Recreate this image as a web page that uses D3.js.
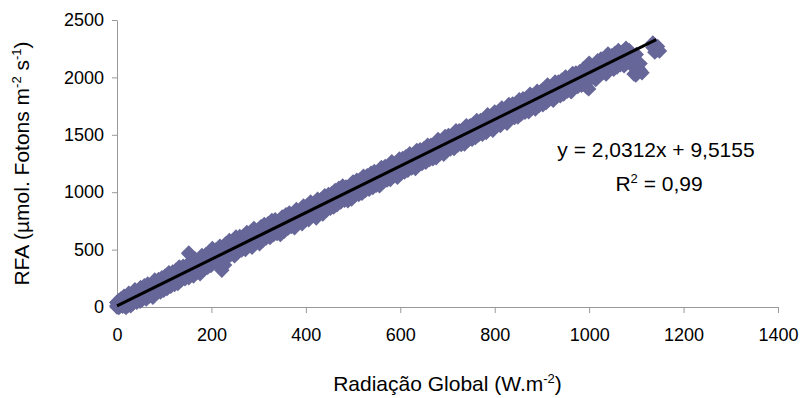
<!DOCTYPE html>
<html>
<head>
<meta charset="utf-8">
<script src="https://cdn.jsdelivr.net/npm/d3@7/dist/d3.min.js"></script>
<style>
  body { margin: 0; background: #fff; }
  svg text { font-family: "Liberation Sans", Arial, sans-serif; fill: #000; }
</style>
</head>
<body>
<div id="chart"></div>
<script>
// values (three overlapping strips of the same cloud)
const radGlobal = [0, 0, 0, 3, 8, 15, 20, 25, 30, 38, 45, 50, 58, 65, 72, 80, 88, 95, 102, 110,
  118, 125, 132, 140, 148, 152, 158, 165, 172, 180, 188, 195, 202, 210, 218, 224, 230, 238, 245, 252,
  260, 268, 275, 282, 290, 298, 305, 312, 320, 328, 335, 342, 350, 358, 365, 372, 380, 388, 395, 402,
  410, 418, 425, 432, 440, 448, 455, 462, 470, 478, 485, 494, 500, 508, 515, 522, 530, 538, 545, 552,
  560, 568, 575, 582, 590, 598, 605, 612, 620, 628, 635, 642, 650, 658, 665, 672, 680, 688, 695, 702,
  710, 718, 725, 732, 740, 748, 755, 762, 770, 778, 785, 792, 800, 808, 815, 822, 830, 838, 845, 852,
  860, 868, 875, 882, 890, 898, 905, 912, 920, 928, 935, 942, 950, 958, 965, 972, 980, 988, 995, 1000,
  1010, 1018, 1025, 1032, 1040, 1048, 1055, 1062, 1070, 1078, 1085, 1095, 1100, 1108, 1135, 1145];
const rfa = [5, 0, 12, 15, 20, 45, 38, 70, 55, 95, 85, 118, 125, 150, 140, 175, 185, 200, 215, 240,
  250, 262, 290, 300, 310, 465, 330, 360, 350, 390, 400, 420, 450, 440, 470, 370, 490, 520, 505, 545,
  555, 560, 590, 580, 620, 610, 640, 660, 665, 690, 700, 690, 720, 745, 760, 750, 790, 785, 815, 820,
  855, 835, 880, 870, 905, 920, 930, 950, 975, 990, 985, 950, 1030, 1040, 1050, 1075, 1085, 1100, 1120, 1115,
  1150, 1165, 1170, 1200, 1190, 1225, 1235, 1250, 1270, 1265, 1300, 1310, 1320, 1345, 1350, 1360, 1395, 1390, 1420, 1435,
  1440, 1470, 1475, 1480, 1515, 1520, 1535, 1560, 1565, 1580, 1610, 1600, 1635, 1640, 1670, 1660, 1700, 1710, 1715, 1740,
  1755, 1760, 1790, 1785, 1815, 1820, 1840, 1870, 1860, 1895, 1900, 1915, 1940, 1935, 1970, 1980, 1990, 2010, 1915, 2060,
  2040, 2080, 2100, 2090, 2140, 2130, 2150, 2170, 2160, 2195, 2175, 2030, 2140, 2060, 2260, 2240];

const rfaHigh = [40, 40, 40, 55, 70, 95, 90, 120, 110, 150, 140, 170, 185, 200, 195, 235, 240, 255, 270, 300,
  305, 320, 350, 355, 365, 470, 390, 420, 405, 450, 455, 480, 510, 500, 530, 470, 550, 580, 565, 610,
  615, 620, 650, 640, 685, 670, 700, 720, 725, 755, 760, 750, 785, 805, 820, 810, 850, 845, 880, 880,
  915, 895, 940, 935, 970, 980, 990, 1015, 1035, 1055, 1045, 1050, 1090, 1105, 1110, 1140, 1145, 1165, 1180, 1175,
  1215, 1225, 1230, 1265, 1250, 1290, 1295, 1310, 1335, 1325, 1365, 1370, 1380, 1410, 1410, 1420, 1460, 1450, 1485, 1495,
  1500, 1535, 1535, 1540, 1580, 1580, 1595, 1625, 1625, 1640, 1675, 1660, 1700, 1700, 1735, 1720, 1765, 1770, 1775, 1805,
  1815, 1820, 1855, 1845, 1880, 1880, 1900, 1935, 1920, 1960, 1960, 1975, 2005, 1995, 2035, 2040, 2050, 2075, 2080, 2125,
  2100, 2145, 2160, 2150, 2205, 2190, 2210, 2235, 2220, 2255, 2235, 2180, 2200, 2120, 2300, 2270];

const radGlobalLow = [4, 12, 19, 24, 29, 34, 42, 49, 54, 62, 69, 76, 84, 92, 99, 106, 114, 122, 129, 136,
  144, 152, 162, 169, 176, 184, 192, 199, 206, 214, 222, 228, 234, 242, 249, 256, 264, 272, 279, 286,
  294, 302, 309, 316, 324, 332, 339, 346, 354, 362, 369, 376, 384, 392, 399, 406, 414, 422, 429, 436,
  444, 452, 459, 466, 474, 482, 489, 497, 504, 512, 519, 526, 534, 542, 549, 556, 564, 572, 579, 586,
  594, 602, 609, 616, 624, 632, 639, 646, 654, 662, 669, 676, 684, 692, 699, 706, 714, 722, 729, 736,
  744, 752, 759, 766, 774, 782, 789, 796, 804, 812, 819, 826, 834, 842, 849, 856, 864, 872, 879, 886,
  894, 902, 909, 916, 924, 932, 939, 946, 954, 962, 969, 976, 984, 992, 999, 1004, 1014, 1022, 1029, 1036,
  1044, 1052, 1059, 1066, 1074, 1082, 1089, 1099, 1104, 1112, 1139, 1149];
const rfaLow = [-5, 5, -5, 15, 10, 30, 40, 50, 65, 70, 95, 85, 120, 130, 145, 160, 180, 195, 205, 235,
  245, 255, 270, 300, 290, 330, 345, 360, 390, 380, 320, 365, 430, 460, 445, 485, 495, 500, 530, 520,
  560, 550, 580, 600, 605, 630, 640, 630, 660, 685, 700, 690, 730, 725, 755, 760, 795, 775, 820, 810,
  845, 860, 870, 890, 915, 930, 925, 940, 970, 980, 990, 1015, 1025, 1040, 1060, 1055, 1090, 1105, 1110, 1140,
  1130, 1165, 1175, 1190, 1210, 1205, 1240, 1250, 1260, 1285, 1290, 1300, 1335, 1330, 1360, 1375, 1380, 1410, 1415, 1420,
  1455, 1460, 1475, 1500, 1505, 1520, 1550, 1540, 1575, 1580, 1610, 1600, 1640, 1650, 1655, 1680, 1695, 1700, 1730, 1725,
  1755, 1760, 1780, 1810, 1800, 1835, 1840, 1855, 1880, 1875, 1910, 1920, 1930, 1950, 1900, 1990, 1980, 2020, 2040, 2030,
  2080, 2070, 2090, 2110, 2100, 2135, 2110, 2020, 2080, 2040, 2220, 2230];

const xTicks = [0, 200, 400, 600, 800, 1000, 1200, 1400];
const yTicks = [0, 500, 1000, 1500, 2000, 2500];
const slope = 2.0312, intercept = 9.5155;
const trendX = [0, 1142];

const width = 804, height = 398;
const margin = { top: 20, right: 26, bottom: 91, left: 117 };

const svg = d3.select('#chart').append('svg')
  .attr('width', width)
  .attr('height', height);

const x = d3.scaleLinear().domain([0, 1400]).range([margin.left, width - margin.right]);
const y = d3.scaleLinear().domain([0, 2500]).range([height - margin.bottom, margin.top]);

const axisColor = '#999';
const tickFont = '18px';
const titleFont = '21px';

// x axis
const xAxisG = svg.append('g')
  .attr('transform', `translate(0,${y(0)})`)
  .call(d3.axisBottom(x).tickValues(xTicks).tickSize(6).tickSizeOuter(0).tickPadding(12).tickFormat(d3.format('d')));

// y axis
const yAxisG = svg.append('g')
  .attr('transform', `translate(${x(0)},0)`)
  .call(d3.axisLeft(y).tickValues(yTicks).tickSize(5).tickSizeOuter(0).tickPadding(8).tickFormat(d3.format('d')));

svg.selectAll('.domain, .tick line').style('stroke', axisColor).style('stroke-width', 1);
svg.selectAll('.tick text')
  .style('font-family', '"Liberation Sans", Arial, sans-serif')
  .style('font-size', tickFont)
  .style('fill', '#000');
xAxisG.selectAll('.tick text').attr('dy', '0.9em');

// points
const pts = radGlobal.map((d, i) => [d, rfa[i]])
  .concat(radGlobal.map((d, i) => [d, rfaHigh[i]]))
  .concat(radGlobalLow.map((d, i) => [d, rfaLow[i]]));
const diamond = d3.symbol().type(d3.symbolDiamond2).size(150);
svg.append('g')
  .selectAll('path')
  .data(pts)
  .enter()
  .append('path')
  .attr('d', diamond)
  .attr('transform', d => `translate(${x(d[0])},${y(d[1])})`)
  .style('fill', '#666699');

// trend line
svg.append('line')
  .attr('x1', x(trendX[0]))
  .attr('y1', y(slope * trendX[0] + intercept))
  .attr('x2', x(trendX[1]))
  .attr('y2', y(slope * trendX[1] + intercept))
  .style('stroke', '#000')
  .style('stroke-width', 3);

// equation
const eq = svg.append('g').style('font-size', titleFont);
eq.append('text')
  .attr('x', 656).attr('y', 157)
  .attr('text-anchor', 'middle')
  .text('y = 2,0312x + 9,5155');
const r2 = eq.append('text')
  .attr('x', 659).attr('y', 191)
  .attr('text-anchor', 'middle');
r2.append('tspan').text('R');
r2.append('tspan').attr('dy', -8).style('font-size', '13px').text('2');
r2.append('tspan').attr('dy', 8).text(' = 0,99');

// axis titles
const xt = svg.append('text')
  .attr('x', (x(0) + x(1400)) / 2)
  .attr('y', 391)
  .attr('text-anchor', 'middle')
  .style('font-size', titleFont);
xt.append('tspan').text('Radiação Global (W.m');
xt.append('tspan').attr('dy', -8).style('font-size', '13px').text('-2');
xt.append('tspan').attr('dy', 8).text(')');

const yt = svg.append('text')
  .attr('transform', `translate(29,${(y(0) + y(2500)) / 2}) rotate(-90)`)
  .attr('text-anchor', 'middle')
  .style('font-size', titleFont);
yt.append('tspan').text('RFA (µmol. Fotons m');
yt.append('tspan').attr('dy', -8).style('font-size', '13px').text('-2');
yt.append('tspan').attr('dy', 8).text(' s');
yt.append('tspan').attr('dy', -8).style('font-size', '13px').text('-1');
yt.append('tspan').attr('dy', 8).text(')');
</script>
</body>
</html>
